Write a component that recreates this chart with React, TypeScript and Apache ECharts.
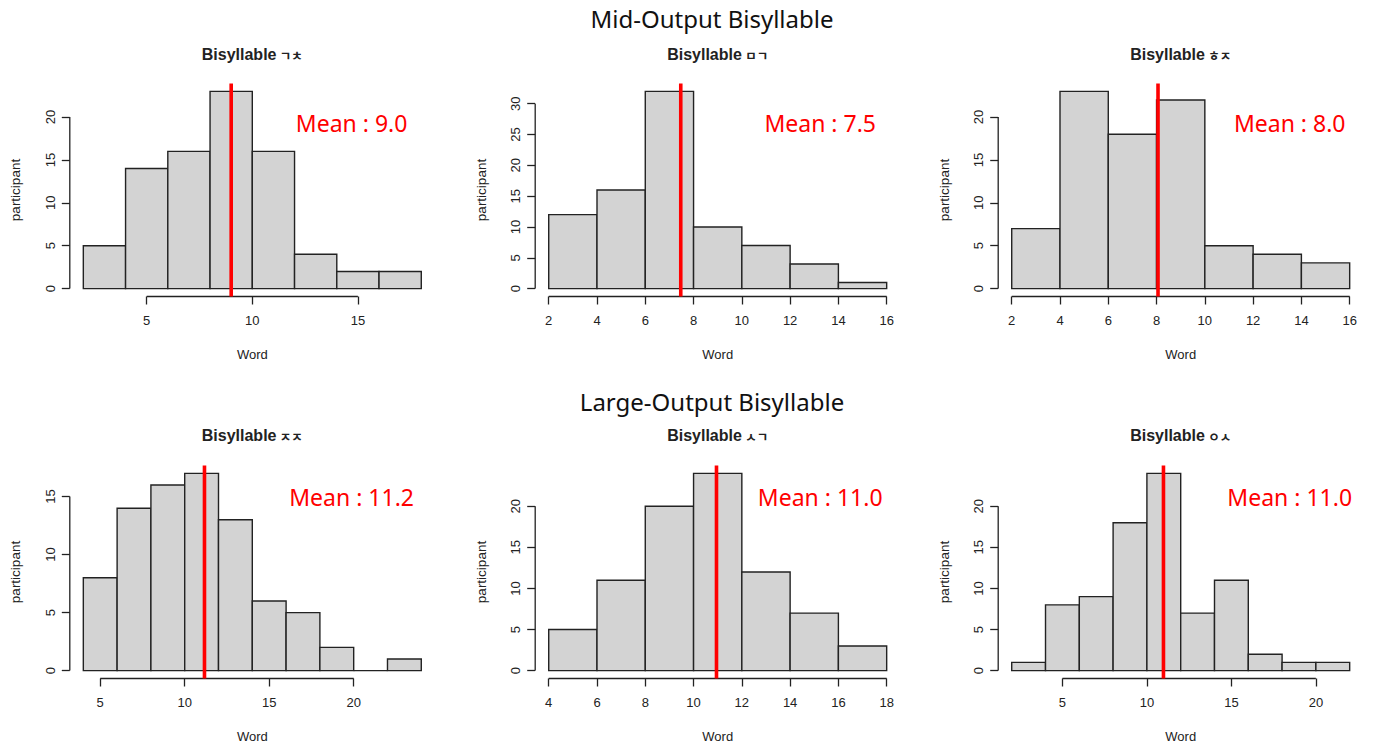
import React, { useEffect, useRef } from "react";
import * as echarts from "echarts";

// ---------- data ----------
const panelTitles = ["ㄱㅊ", "ㅁㄱ", "ㅎㅈ", "ㅈㅈ", "ㅅㄱ", "ㅇㅅ"];
const rowTitles = ["Mid-Output Bisyllable", "Large-Output Bisyllable"];

const breakStart = [2, 2, 2, 4, 4, 2];
const breakStep = [2, 2, 2, 2, 2, 2];

const counts1 = [5, 14, 16, 23, 16, 4, 2, 2];
const counts2 = [12, 16, 32, 10, 7, 4, 1];
const counts3 = [7, 23, 18, 22, 5, 4, 3];
const counts4 = [8, 14, 16, 17, 13, 6, 5, 2, 0, 1];
const counts5 = [5, 11, 20, 24, 12, 7, 3];
const counts6 = [1, 8, 9, 18, 24, 7, 11, 2, 1, 1];
const allCounts = [counts1, counts2, counts3, counts4, counts5, counts6];

const meanValues = [9.0, 7.47, 8.06, 11.17, 10.95, 10.98];
const meanLabels = ["Mean : 9.0", "Mean : 7.5", "Mean : 8.0", "Mean : 11.2", "Mean : 11.0", "Mean : 11.0"];

const xTicks1 = [5, 10, 15];
const xTicks2 = [2, 4, 6, 8, 10, 12, 14, 16];
const xTicks3 = [2, 4, 6, 8, 10, 12, 14, 16];
const xTicks4 = [5, 10, 15, 20];
const xTicks5 = [4, 6, 8, 10, 12, 14, 16, 18];
const xTicks6 = [5, 10, 15, 20];
const allXTicks = [xTicks1, xTicks2, xTicks3, xTicks4, xTicks5, xTicks6];

const yTicks1 = [0, 5, 10, 15, 20];
const yTicks2 = [0, 5, 10, 15, 20, 25, 30];
const yTicks3 = [0, 5, 10, 15, 20];
const yTicks4 = [0, 5, 10, 15];
const yTicks5 = [0, 5, 10, 15, 20];
const yTicks6 = [0, 5, 10, 15, 20];
const allYTicks = [yTicks1, yTicks2, yTicks3, yTicks4, yTicks5, yTicks6];

// ---------- layout ----------
const colLeft = [69.8, 535.2, 998.2];
const plotWidth = 365;
const rowTop = [83.5, 465.5];
const plotHeight = 213;
const rowHeaderY = [18.5, 401];
const panelTitleY = [54, 435];
const meanTextX = [351.6, 820.2, 1289.7];
const meanTextY = [123, 496.7];

const RFONT = "'Liberation Sans', Arial, sans-serif";
const NFONT = "'Noto Sans', 'Open Sans', sans-serif";

export default function App() {
  const ref = useRef<HTMLDivElement>(null);

  useEffect(() => {
    if (!ref.current) return;
    const chart = echarts.init(ref.current, undefined, { renderer: "svg" });

    const grids: any[] = [];
    const xAxes: any[] = [];
    const yAxes: any[] = [];
    const series: any[] = [];
    const graphics: any[] = [];

    rowTitles.forEach((t, r) => {
      graphics.push({
        type: "text",
        x: 712,
        y: rowHeaderY[r],
        style: {
          text: t,
          font: `24px ${NFONT}`,
          fill: "#111",
          textAlign: "center",
          textVerticalAlign: "middle",
        },
      });
    });

    for (let i = 0; i < 6; i++) {
      const row = Math.floor(i / 3);
      const col = i % 3;
      const counts = allCounts[i];
      const b0 = breakStart[i];
      const st = breakStep[i];
      const b1 = b0 + st * counts.length;
      const xr = b1 - b0;
      const xmin = b0 - 0.04 * xr;
      const xmax = b1 + 0.04 * xr;
      const ymaxData = Math.max(...counts);
      const ymin = -0.04 * ymaxData;
      const ymax = 1.04 * ymaxData;
      const xt = allXTicks[i];
      const yt = allYTicks[i];

      grids.push({
        left: colLeft[col],
        top: rowTop[row],
        width: plotWidth,
        height: plotHeight,
        containLabel: false,
      });
      xAxes.push({
        type: "value",
        gridIndex: i,
        min: xmin,
        max: xmax,
        axisLine: { show: false, onZero: false },
        splitLine: { show: false },
        axisTick: {
          show: true,
          customValues: xt,
          length: 8,
          lineStyle: { color: "#222", width: 1.3 },
        },
        axisLabel: {
          show: true,
          customValues: xt,
          margin: 17,
          fontSize: 13,
          fontFamily: RFONT,
          color: "#222",
        },
        name: "Word",
        nameLocation: "middle",
        nameGap: 51,
        nameTextStyle: { fontSize: 13, fontFamily: RFONT, color: "#222" },
      });
      yAxes.push({
        type: "value",
        gridIndex: i,
        min: ymin,
        max: ymax,
        axisLine: { show: false, onZero: false },
        splitLine: { show: false },
        axisTick: {
          show: true,
          customValues: yt,
          length: 8,
          lineStyle: { color: "#222", width: 1.3 },
        },
        axisLabel: {
          show: true,
          customValues: yt,
          rotate: 90,
          margin: 13,
          fontSize: 13,
          fontFamily: RFONT,
          color: "#222",
        },
        name: "participant",
        nameLocation: "middle",
        nameGap: 47,
        nameTextStyle: { fontSize: 13.5, fontFamily: RFONT, color: "#222" },
      });

      const histData = counts.map((c, k) => [b0 + k * st, b0 + (k + 1) * st, c]);
      series.push({
        type: "custom",
        xAxisIndex: i,
        yAxisIndex: i,
        data: histData,
        encode: { x: [0, 1], y: 2 },
        renderItem: (params: any, api: any) => {
          const a = api.coord([api.value(0), api.value(2)]);
          const b = api.coord([api.value(1), 0]);
          return {
            type: "rect",
            shape: { x: a[0], y: a[1], width: b[0] - a[0], height: b[1] - a[1] },
            style: { fill: "#D3D3D3", stroke: "#222", lineWidth: 1.4 },
          };
        },
        silent: true,
      });
      // axis lines (R style: from first to last tick)
      series.push({
        type: "custom",
        xAxisIndex: i,
        yAxisIndex: i,
        data: [[xmin, ymin]],
        renderItem: (params: any, api: any) => {
          const xa = api.coord([xt[0], ymin]);
          const xb = api.coord([xt[xt.length - 1], ymin]);
          const ya = api.coord([xmin, yt[0]]);
          const yb = api.coord([xmin, yt[yt.length - 1]]);
          return {
            type: "group",
            children: [
              {
                type: "line",
                shape: { x1: xa[0], y1: xa[1], x2: xb[0], y2: xb[1] },
                style: { stroke: "#222", lineWidth: 1.3 },
              },
              {
                type: "line",
                shape: { x1: ya[0], y1: ya[1], x2: yb[0], y2: yb[1] },
                style: { stroke: "#222", lineWidth: 1.3 },
              },
            ],
          };
        },
        silent: true,
      });
      // mean line
      series.push({
        type: "custom",
        xAxisIndex: i,
        yAxisIndex: i,
        data: [[meanValues[i], ymax]],
        renderItem: (params: any, api: any) => {
          const p = api.coord([meanValues[i], ymin]);
          const q = api.coord([meanValues[i], ymax]);
          return {
            type: "line",
            shape: { x1: p[0], y1: p[1], x2: q[0], y2: q[1] },
            style: { stroke: "#FF0000", lineWidth: 3.6 },
          };
        },
        z: 5,
        silent: true,
      });

      // panel title
      graphics.push({
        type: "text",
        x: colLeft[col] + plotWidth / 2,
        y: panelTitleY[row],
        style: {
          text: `{a|Bisyllable} {b|${panelTitles[i]}}`,
          textAlign: "center",
          textVerticalAlign: "middle",
          rich: {
            a: { fontSize: 16, fontWeight: "bold", fontFamily: RFONT, fill: "#222", color: "#222" },
            b: {
              fontSize: 12.5,
              fontWeight: "bold",
              fontFamily: "'Noto Sans CJK KR', sans-serif",
              fill: "#222",
              color: "#222",
              verticalAlign: "bottom",
            },
          },
        },
      });
      // mean annotation
      graphics.push({
        type: "text",
        x: meanTextX[col],
        y: meanTextY[row],
        style: {
          text: meanLabels[i],
          font: `23px ${NFONT}`,
          fill: "#FF0000",
          textAlign: "center",
          textVerticalAlign: "middle",
        },
        z: 10,
      });
    }

    chart.setOption({
      animation: false,
      backgroundColor: "#ffffff",
      grid: grids,
      xAxis: xAxes,
      yAxis: yAxes,
      series,
      graphic: graphics,
    });

    return () => chart.dispose();
  }, []);

  return (
    <div
      ref={ref}
      style={{ position: "fixed", left: 0, top: 0, width: 1373, height: 745, background: "#fff" }}
    />
  );
}
